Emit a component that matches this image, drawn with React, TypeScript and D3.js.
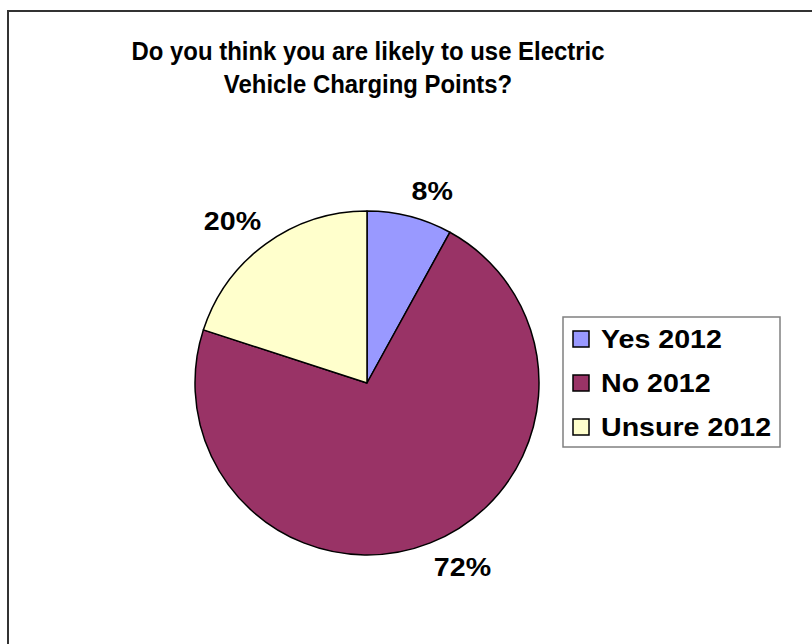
import React from "react";
import * as d3 from "d3";

const categories = ["Yes 2012", "No 2012", "Unsure 2012"];
const values = [8, 72, 20];
const labels = ["8%", "72%", "20%"];
const colors = ["#9999FF", "#993366", "#FFFFCC"];
const titleLines = ["Do you think you are likely to use Electric", "Vehicle Charging Points?"];

const W = 812;
const H = 644;
const cx = 367;
const cy = 383;
const R = 172;
const FONT = "'Liberation Sans', Arial, sans-serif";
const SX = 1.1;
const LFS = 26;

export default function App() {
  const pie = d3.pie<number>().sort(null).value((d) => d)(values);
  const arc = d3.arc<d3.PieArcDatum<number>>().innerRadius(0).outerRadius(R);
  const r0 = 187;
  return (
    <svg width={W} height={H} style={{ position: "absolute", left: 0, top: 0 }}>
      <rect x={0} y={0} width={W} height={H} fill="#fff" />
      <rect x={8} y={11} width={W + 20} height={H + 20} fill="none" stroke="#333" strokeWidth={2} />
      {titleLines.map((t, i) => (
        <g key={i} transform={`translate(368,${60 + i * 33}) scale(0.92,1)`}>
          <text x={0} y={0} textAnchor="middle" fontFamily={FONT} fontWeight="bold" fontSize={26} fill="#000">
            {t}
          </text>
        </g>
      ))}
      <g transform={`translate(${cx},${cy})`}>
        {pie.map((p, i) => (
          <path key={i} d={arc(p) || ""} fill={colors[i]} stroke="#000" strokeWidth={1.5} strokeLinejoin="round" />
        ))}
        {pie.map((p, i) => {
          const a = (p.startAngle + p.endAngle) / 2;
          const s = Math.sin(a);
          const c = Math.cos(a);
          const x = s * r0 + (s >= 0 ? -2 : 4);
          const y = -c * r0 + (c > 0 ? -2 : LFS * 0.72);
          return (
            <g key={i} transform={`translate(${x},${y}) scale(${SX},1)`}>
              <text x={0} y={0} textAnchor={s >= 0 ? "start" : "end"} fontFamily={FONT} fontWeight="bold" fontSize={LFS} fill="#000">
                {labels[i]}
              </text>
            </g>
          );
        })}
      </g>
      <g>
        <rect x={563} y={317} width={217} height={130} fill="#fff" stroke="#808080" strokeWidth={1.5} />
        {categories.map((c, i) => (
          <g key={i} transform={`translate(573,${339 + i * 44})`}>
            <rect x={0} y={-8} width={16} height={16} fill={colors[i]} stroke="#000" strokeWidth={1.5} />
            <g transform={`translate(28,0) scale(${SX},1)`}>
              <text x={0} y={0} dy="0.36em" fontFamily={FONT} fontWeight="bold" fontSize={26} fill="#000">
                {c}
              </text>
            </g>
          </g>
        ))}
      </g>
    </svg>
  );
}
